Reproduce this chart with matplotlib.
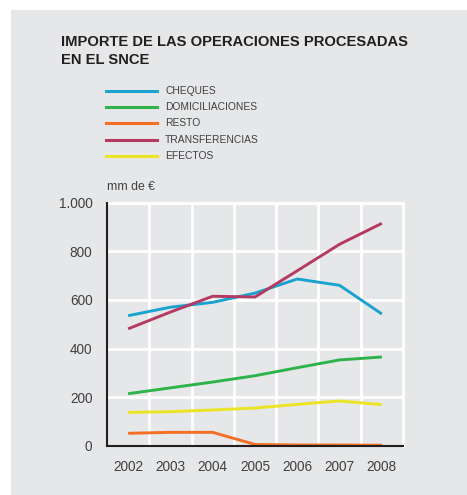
import numpy as np
import matplotlib
matplotlib.use("Agg")
import matplotlib.pyplot as plt
from matplotlib.patches import Rectangle
from matplotlib.lines import Line2D

plt.rcParams["font.family"] = ["Liberation Sans", "DejaVu Sans"]

# importe anual por tipo de operación (mm de €)
years = [2002, 2003, 2004, 2005, 2006, 2007, 2008]
cheques = [535, 570, 590, 628, 686, 660, 542]
domiciliaciones = [214, 238, 262, 288, 321, 353, 365]
resto = [51, 55, 55, 5, 3, 3, 2]
transferencias = [481, 550, 615, 612, 720, 829, 915]
efectos = [137, 140, 147, 155, 170, 184, 169]

series_names = ["CHEQUES", "DOMICILIACIONES", "RESTO", "TRANSFERENCIAS", "EFECTOS"]
series_colors = ["#1aa3cf", "#2db34a", "#f36f24", "#b53a63", "#ebe424"]
yticks = [0, 200, 400, 600, 800, 1000]
ytick_labels = ["0", "200", "400", "600", "800", "1.000"]

bg = "#e6e7e8"
txt = "#404041"
W, H = 467, 495
fig = plt.figure(figsize=(W / 100, H / 100), dpi=100, facecolor="white")
fig.patches.append(Rectangle((11 / W, 0), 1 - 11 / W, 1 - 10 / H,
                             transform=fig.transFigure, facecolor=bg,
                             edgecolor="none", zorder=-10))

fig.text(61 / W, 1 - 35 / H, "IMPORTE DE LAS OPERACIONES PROCESADAS\nEN EL SNCE",
         fontsize=10.6, fontweight="bold", color="#231f20", va="top",
         linespacing=1.35)

# leyenda dibujada a mano
legend_y = [90.7, 106.7, 123.3, 139.7, 156]
for name, col, ly in zip(series_names, series_colors, legend_y):
    fig.add_artist(Line2D([106 / W, 157 / W], [1 - ly / H, 1 - ly / H],
                          color=col, lw=2.2, transform=fig.transFigure))
    fig.text(165 / W, 1 - ly / H, name, fontsize=7.4, color=txt,
             va="center")

left, right, top, bottom = 107, 403, 202.7, 445.7
ax = fig.add_axes([left / W, 1 - bottom / H, (right - left) / W, (bottom - top) / H])
ax.set_facecolor(bg)

data = [cheques, domiciliaciones, resto, transferencias, efectos]
order = [1, 4, 2, 0, 3]
for i in order:
    ax.plot(years, data[i], color=series_colors[i], lw=2.1, zorder=3,
            solid_capstyle="butt")

ax.set_xlim(2001.5, 2008.5)
ax.set_ylim(0, 1000)
ax.set_xticks(years)
ax.set_xticklabels([str(y) for y in years])
ax.set_xticks(np.arange(2002.5, 2008.5, 1), minor=True)
ax.set_yticks(yticks)
ax.set_yticklabels(ytick_labels)
ax.grid(axis="x", which="minor", color="white", lw=2)
ax.grid(axis="y", which="major", color="white", lw=2)
ax.set_axisbelow(True)
ax.tick_params(which="both", length=0)
ax.tick_params(axis="x", pad=10, labelsize=9.8, colors=txt)
ax.tick_params(axis="y", pad=10.5, labelsize=9.8, colors=txt)
for side in ["top", "right"]:
    ax.spines[side].set_color("white")
    ax.spines[side].set_linewidth(2)
for side in ["left", "bottom"]:
    ax.spines[side].set_color("#231f20")
    ax.spines[side].set_linewidth(1.5)
    ax.spines[side].set_zorder(4)

fig.text(107 / W, 1 - 187 / H, "mm de €", fontsize=8.8, color=txt,
         va="center")

fig.savefig("out.png", dpi=100, facecolor="white")
